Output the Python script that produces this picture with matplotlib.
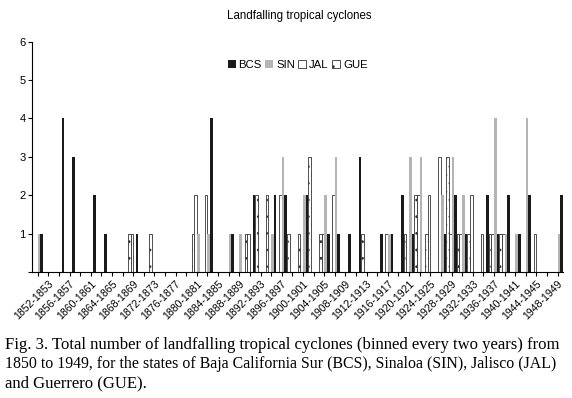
import matplotlib
matplotlib.use("Agg")
import matplotlib.pyplot as plt
import numpy as np

plt.rcParams['hatch.linewidth'] = 0.8

bins = [f"{y}-{y+1}" for y in range(1850, 1950, 2)]

BCS = [1,0,4,3,0,2,1,0,0,1, 0,0,0,0,0,0,4,0,1,0, 2,0,2,2,0,2,0,1,1,1,
       3,0,1,1,2,1,0,0,1,2, 1,0,2,1,2,1,2,0,0,2]
SIN = [1,0,0,0,0,0,0,0,0,0, 0,0,0,0,0,1,1,0,1,1, 0,0,1,3,0,2,0,2,3,0,
       0,0,0,1,0,3,3,0,2,3, 2,0,0,4,1,1,4,0,0,1]
JAL = [0,0,0,0,0,0,0,0,0,1, 0,0,0,0,0,2,2,0,0,0, 1,0,0,2,0,0,0,1,2,0,
       0,0,0,1,0,0,2,2,3,1, 1,2,1,1,1,0,0,1,0,0]
GUE = [0,0,0,0,0,0,0,0,0,1, 0,1,0,0,0,1,0,0,0,0, 1,2,2,0,1,1,3,1,0,0,
       0,1,0,0,0,1,2,1,0,3, 1,1,0,1,1,0,0,0,0,0]

series_names = ["BCS", "SIN", "JAL", "GUE"]
tick_labels = [b if i % 2 == 1 else "" for i, b in enumerate(bins)]

fig = plt.figure(figsize=(5.72, 3.98), dpi=100)
ax = fig.add_axes([0.0566, 0.3166, 0.9276, 0.5787])

x = np.arange(len(bins))
w = 0.25
bG = ax.bar(x - 1.5 * w, GUE, w, color="white", edgecolor="#333333",
            linewidth=0.6, hatch="..", label="GUE")
bJ = ax.bar(x - 0.5 * w, JAL, w, color="white", edgecolor="#333333",
            linewidth=0.6, label="JAL")
bS = ax.bar(x + 0.5 * w, SIN, w, color="#b4b4b4", linewidth=0, label="SIN")
bB = ax.bar(x + 1.5 * w, BCS, w, color="#1a1a1a", linewidth=0, label="BCS")

ax.set_xlim(-0.5, len(bins) - 0.5)
ax.set_ylim(0, 6)
ax.set_yticks([1, 2, 3, 4, 5, 6, 0])
ax.set_yticklabels(["1", "2", "3", "4", "5", "6", ""])
ax.set_xticks(x)
ax.set_xticklabels(tick_labels, rotation=45, ha="right", rotation_mode="anchor",
                   fontsize=7.6, family="Liberation Sans")
for lab in ax.get_yticklabels():
    lab.set_fontsize(8)
    lab.set_family("Liberation Sans")
ax.tick_params(axis="both", direction="out", length=3, width=0.8, pad=2)
for s in ["top", "right"]:
    ax.spines[s].set_visible(False)
for s in ["left", "bottom"]:
    ax.spines[s].set_linewidth(0.8)

fig.text(0.523, 0.96, "Landfalling tropical cyclones", fontsize=8.3,
         family="Liberation Sans", ha="center", va="center")
ax.legend(handles=[bB, bS, bJ, bG], labels=series_names, loc="center",
          bbox_to_anchor=(0.5, 0.9), ncol=4, frameon=False,
          prop={"family": "Liberation Sans", "size": 8.2},
          handlelength=0.7, handleheight=0.7, handletextpad=0.25, columnspacing=0.3,
          borderaxespad=0)

caption_lines = [
    ("Fig. 3. Total number of landfalling tropical cyclones (binned every two years) from", 12.0),
    ("1850 to 1949, for the states of Baja California Sur (BCS), Sinaloa (SIN), Jalisco (JAL)", 11.45),
    ("and Guerrero (GUE).", 12.0),
]
for i, (line, fs) in enumerate(caption_lines):
    fig.text(0.008, (398 - 345 - 19 * i) / 398, line, family="Liberation Serif",
             fontsize=fs, va="center", ha="left")

fig.savefig("out.png", dpi=100)
